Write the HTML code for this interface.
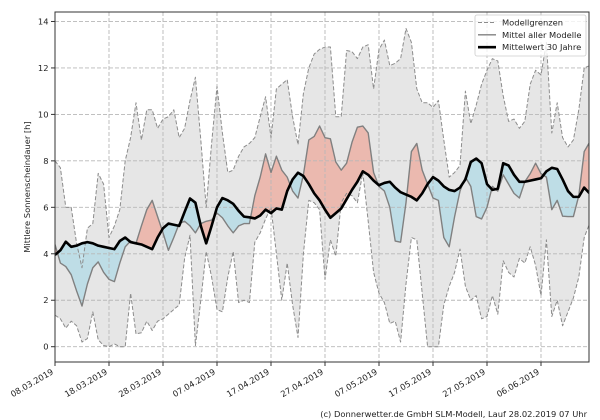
<!DOCTYPE html>
<html>
<head>
<meta charset="utf-8">
<style>
html,body{margin:0;padding:0;background:#fff;width:600px;height:420px;overflow:hidden;}
svg{display:block;}
text{fill:#222;}
</style>
</head>
<body>
<svg width="600" height="420" viewBox="0 0 600 420" xmlns="http://www.w3.org/2000/svg" font-family="'DejaVu Sans','Liberation Sans',sans-serif" font-size="8.33">
<defs>
  <clipPath id="plot"><rect x="55" y="12" width="534" height="350"/></clipPath>
  <clipPath id="aboveC">
    <polygon points="0,3.95 1,4.15 2,4.52 3,4.3 4,4.35 5,4.45 6,4.5 7,4.45 8,4.35 9,4.3 10,4.25 11,4.2 12,4.55 13,4.7 14,4.5 15,4.45 16,4.4 17,4.3 18,4.2 19,4.7 20,5.1 21,5.3 22,5.25 23,5.2 24,5.8 25,6.38 26,6.2 27,5.2 28,4.45 29,5.2 30,6 31,6.4 32,6.3 33,6.15 34,5.85 35,5.6 36,5.57 37,5.52 38,5.65 39,5.9 40,5.75 41,5.95 42,5.9 43,6.7 44,7.2 45,7.49 46,7.35 47,7 48,6.6 49,6.3 50,5.9 51,5.55 52,5.75 53,5.95 54,6.35 55,6.75 56,7.1 57,7.55 58,7.4 59,7.15 60,6.95 61,7.05 62,7.1 63,6.85 64,6.65 65,6.55 66,6.45 67,6.3 68,6.6 69,7 70,7.3 71,7.15 72,6.9 73,6.75 74,6.7 75,6.85 76,7.2 77,7.95 78,8.1 79,7.9 80,7 81,6.75 82,6.8 83,7.9 84,7.8 85,7.4 86,7.1 87,7.1 88,7.15 89,7.2 90,7.25 91,7.55 92,7.7 93,7.65 94,7.2 95,6.7 96,6.45 97,6.45 98,6.85 99,6.6 99,14.5 0,14.5"/>
  </clipPath>
  <clipPath id="aboveM">
    <polygon points="0,4.4 1,3.6 2,3.45 3,3.1 4,2.4 5,1.75 6,2.7 7,3.4 8,3.65 9,3.2 10,2.9 11,2.8 12,3.6 13,4.3 14,4.55 15,4.45 16,5.2 17,5.9 18,6.3 19,5.6 20,4.9 21,4.15 22,4.7 23,5.3 24,5.4 25,5.2 26,4.9 27,5.3 28,5.4 29,5.45 30,5.75 31,5.55 32,5.2 33,4.9 34,5.2 35,5.3 36,5.3 37,6.5 38,7.3 39,8.3 40,7.5 41,8.2 42,7.6 43,7.3 44,6.7 45,6.4 46,7.4 47,8.9 48,9.05 49,9.5 50,9 51,8.95 52,7.95 53,7.6 54,7.9 55,8.8 56,9.45 57,9.5 58,9.2 59,7.5 60,6.9 61,6.7 62,6 63,4.55 64,4.5 65,6.2 66,8.4 67,8.75 68,7.6 69,7 70,6.4 71,6.3 72,4.7 73,4.3 74,5.6 75,6.7 76,7.3 77,6.9 78,5.6 79,5.5 80,6 81,6.9 82,6.7 83,7.4 84,7 85,6.6 86,6.4 87,7.1 88,7.45 89,7.9 90,7.45 91,7.3 92,5.9 93,6.3 94,5.62 95,5.6 96,5.6 97,6.5 98,8.4 99,8.8 99,14.5 0,14.5"/>
  </clipPath>
</defs>

<g clip-path="url(#plot)">
  <g transform="translate(55,346.7) scale(5.4,-23.23)">
    <polygon fill="#e6e6e6" stroke="none" points="0,8 1,7.7 2,6 3,6 4,4.45 5,3.4 6,5.1 7,5.3 8,7.46 9,7 10,4.7 11,5.2 12,5.9 13,8 14,9 15,10.5 16,8.9 17,10.2 18,10.2 19,9.4 20,9.8 21,9.9 22,10.2 23,9 24,9.4 25,10.6 26,11.6 27,8.9 28,6 29,8.75 30,11.2 31,9.2 32,7.5 33,7.6 34,8.2 35,8.6 36,8.75 37,9 38,9.9 39,10.76 40,9 41,11.1 42,11.3 43,11.5 44,9.9 45,8.7 46,10.9 47,12 48,12.6 49,12.8 50,12.9 51,12.9 52,9.9 53,9.9 54,12.75 55,12.7 56,12.4 57,12.9 58,13 59,11.1 60,12.8 61,13.2 62,12.1 63,12.2 64,12.4 65,13.7 66,13.1 67,11.1 68,10.5 69,10.5 70,10.3 71,10.6 72,8.9 73,7.3 74,7.5 75,7.8 76,11 77,9.6 78,10.4 79,11.3 80,11.9 81,12.4 82,12.3 83,10.8 84,9.7 85,9.8 86,9.4 87,9.7 88,11.3 89,11.9 90,11.7 91,13.1 92,9.2 93,10.5 94,9 95,8.6 96,8.9 97,10.2 98,12 99,12.1 99,5.3 98,4.7 97,3 96,2.1 95,1.5 94,0.9 93,2 92,1.3 91,4.6 90,2.2 89,3.5 88,4.3 87,3.6 86,3.8 85,3 84,3.2 83,3.7 82,1.4 81,2.2 80,1.3 79,1.2 78,2.2 77,2 76,2.6 75,4.2 74,3.2 73,2.6 72,1.8 71,0 70,0 69,0 68,2.3 67,4.6 66,4.7 65,2.7 64,0.2 63,1.1 62,1 61,1.9 60,2.3 59,3.2 58,5.4 57,7.5 56,6.2 55,6.5 54,6.6 53,6.2 52,3.9 51,4.6 50,2.9 49,5.9 48,6.2 47,6.3 46,4 45,0.4 44,1.8 43,3.6 42,2 41,4 40,6 39,5.5 38,4.9 37,4.5 36,1.9 35,2 34,1.9 33,4.1 32,3 31,1.5 30,1.6 29,3 28,4.1 27,2 26,0.05 25,4.8 24,3.8 23,1.8 22,1.6 21,1.4 20,1.2 19,1.1 18,0.7 17,1.1 16,0.6 15,0.55 14,2.3 13,0 12,0 11,0.12 10,0 9,0.05 8,0.3 7,1.5 6,0.35 5,0.2 4,0.9 3,1.1 2,0.8 1,1.2 0,1.36"/>
    <polygon clip-path="url(#aboveC)" fill="rgba(240,140,120,0.5)" stroke="none" points="0,4.4 1,3.6 2,3.45 3,3.1 4,2.4 5,1.75 6,2.7 7,3.4 8,3.65 9,3.2 10,2.9 11,2.8 12,3.6 13,4.3 14,4.55 15,4.45 16,5.2 17,5.9 18,6.3 19,5.6 20,4.9 21,4.15 22,4.7 23,5.3 24,5.4 25,5.2 26,4.9 27,5.3 28,5.4 29,5.45 30,5.75 31,5.55 32,5.2 33,4.9 34,5.2 35,5.3 36,5.3 37,6.5 38,7.3 39,8.3 40,7.5 41,8.2 42,7.6 43,7.3 44,6.7 45,6.4 46,7.4 47,8.9 48,9.05 49,9.5 50,9 51,8.95 52,7.95 53,7.6 54,7.9 55,8.8 56,9.45 57,9.5 58,9.2 59,7.5 60,6.9 61,6.7 62,6 63,4.55 64,4.5 65,6.2 66,8.4 67,8.75 68,7.6 69,7 70,6.4 71,6.3 72,4.7 73,4.3 74,5.6 75,6.7 76,7.3 77,6.9 78,5.6 79,5.5 80,6 81,6.9 82,6.7 83,7.4 84,7 85,6.6 86,6.4 87,7.1 88,7.45 89,7.9 90,7.45 91,7.3 92,5.9 93,6.3 94,5.62 95,5.6 96,5.6 97,6.5 98,8.4 99,8.8 99,-0.7 0,-0.7"/>
    <polygon clip-path="url(#aboveM)" fill="rgba(173,216,230,0.7)" stroke="none" points="0,3.95 1,4.15 2,4.52 3,4.3 4,4.35 5,4.45 6,4.5 7,4.45 8,4.35 9,4.3 10,4.25 11,4.2 12,4.55 13,4.7 14,4.5 15,4.45 16,4.4 17,4.3 18,4.2 19,4.7 20,5.1 21,5.3 22,5.25 23,5.2 24,5.8 25,6.38 26,6.2 27,5.2 28,4.45 29,5.2 30,6 31,6.4 32,6.3 33,6.15 34,5.85 35,5.6 36,5.57 37,5.52 38,5.65 39,5.9 40,5.75 41,5.95 42,5.9 43,6.7 44,7.2 45,7.49 46,7.35 47,7 48,6.6 49,6.3 50,5.9 51,5.55 52,5.75 53,5.95 54,6.35 55,6.75 56,7.1 57,7.55 58,7.4 59,7.15 60,6.95 61,7.05 62,7.1 63,6.85 64,6.65 65,6.55 66,6.45 67,6.3 68,6.6 69,7 70,7.3 71,7.15 72,6.9 73,6.75 74,6.7 75,6.85 76,7.2 77,7.95 78,8.1 79,7.9 80,7 81,6.75 82,6.8 83,7.9 84,7.8 85,7.4 86,7.1 87,7.1 88,7.15 89,7.2 90,7.25 91,7.55 92,7.7 93,7.65 94,7.2 95,6.7 96,6.45 97,6.45 98,6.85 99,6.6 99,-0.7 0,-0.7"/>
  </g>

  <g stroke="#b8b8b8" stroke-width="0.9" stroke-dasharray="4 2" fill="none">
    <line x1="55" y1="346.7" x2="589" y2="346.7"/>
    <line x1="55" y1="300.24" x2="589" y2="300.24"/>
    <line x1="55" y1="253.78" x2="589" y2="253.78"/>
    <line x1="55" y1="207.32" x2="589" y2="207.32"/>
    <line x1="55" y1="160.86" x2="589" y2="160.86"/>
    <line x1="55" y1="114.4" x2="589" y2="114.4"/>
    <line x1="55" y1="67.94" x2="589" y2="67.94"/>
    <line x1="55" y1="21.48" x2="589" y2="21.48"/>
    <line x1="109" y1="12" x2="109" y2="362"/>
    <line x1="163" y1="12" x2="163" y2="362"/>
    <line x1="217" y1="12" x2="217" y2="362"/>
    <line x1="271" y1="12" x2="271" y2="362"/>
    <line x1="325" y1="12" x2="325" y2="362"/>
    <line x1="379" y1="12" x2="379" y2="362"/>
    <line x1="433" y1="12" x2="433" y2="362"/>
    <line x1="487" y1="12" x2="487" y2="362"/>
    <line x1="541" y1="12" x2="541" y2="362"/>
  </g>

  <g transform="translate(55,346.7) scale(5.4,-23.23)" fill="none" stroke-linejoin="round">
    <polyline vector-effect="non-scaling-stroke" stroke="#8c8c8c" stroke-width="1" stroke-dasharray="4 2" points="0,8 1,7.7 2,6 3,6 4,4.45 5,3.4 6,5.1 7,5.3 8,7.46 9,7 10,4.7 11,5.2 12,5.9 13,8 14,9 15,10.5 16,8.9 17,10.2 18,10.2 19,9.4 20,9.8 21,9.9 22,10.2 23,9 24,9.4 25,10.6 26,11.6 27,8.9 28,6 29,8.75 30,11.2 31,9.2 32,7.5 33,7.6 34,8.2 35,8.6 36,8.75 37,9 38,9.9 39,10.76 40,9 41,11.1 42,11.3 43,11.5 44,9.9 45,8.7 46,10.9 47,12 48,12.6 49,12.8 50,12.9 51,12.9 52,9.9 53,9.9 54,12.75 55,12.7 56,12.4 57,12.9 58,13 59,11.1 60,12.8 61,13.2 62,12.1 63,12.2 64,12.4 65,13.7 66,13.1 67,11.1 68,10.5 69,10.5 70,10.3 71,10.6 72,8.9 73,7.3 74,7.5 75,7.8 76,11 77,9.6 78,10.4 79,11.3 80,11.9 81,12.4 82,12.3 83,10.8 84,9.7 85,9.8 86,9.4 87,9.7 88,11.3 89,11.9 90,11.7 91,13.1 92,9.2 93,10.5 94,9 95,8.6 96,8.9 97,10.2 98,12 99,12.1"/>
    <polyline vector-effect="non-scaling-stroke" stroke="#8c8c8c" stroke-width="1" stroke-dasharray="4 2" points="0,1.36 1,1.2 2,0.8 3,1.1 4,0.9 5,0.2 6,0.35 7,1.5 8,0.3 9,0.05 10,0 11,0.12 12,0 13,0 14,2.3 15,0.55 16,0.6 17,1.1 18,0.7 19,1.1 20,1.2 21,1.4 22,1.6 23,1.8 24,3.8 25,4.8 26,0.05 27,2 28,4.1 29,3 30,1.6 31,1.5 32,3 33,4.1 34,1.9 35,2 36,1.9 37,4.5 38,4.9 39,5.5 40,6 41,4 42,2 43,3.6 44,1.8 45,0.4 46,4 47,6.3 48,6.2 49,5.9 50,2.9 51,4.6 52,3.9 53,6.2 54,6.6 55,6.5 56,6.2 57,7.5 58,5.4 59,3.2 60,2.3 61,1.9 62,1 63,1.1 64,0.2 65,2.7 66,4.7 67,4.6 68,2.3 69,0 70,0 71,0 72,1.8 73,2.6 74,3.2 75,4.2 76,2.6 77,2 78,2.2 79,1.2 80,1.3 81,2.2 82,1.4 83,3.7 84,3.2 85,3 86,3.8 87,3.6 88,4.3 89,3.5 90,2.2 91,4.6 92,1.3 93,2 94,0.9 95,1.5 96,2.1 97,3 98,4.7 99,5.3"/>
    <polyline vector-effect="non-scaling-stroke" stroke="#808080" stroke-width="1.4" points="0,4.4 1,3.6 2,3.45 3,3.1 4,2.4 5,1.75 6,2.7 7,3.4 8,3.65 9,3.2 10,2.9 11,2.8 12,3.6 13,4.3 14,4.55 15,4.45 16,5.2 17,5.9 18,6.3 19,5.6 20,4.9 21,4.15 22,4.7 23,5.3 24,5.4 25,5.2 26,4.9 27,5.3 28,5.4 29,5.45 30,5.75 31,5.55 32,5.2 33,4.9 34,5.2 35,5.3 36,5.3 37,6.5 38,7.3 39,8.3 40,7.5 41,8.2 42,7.6 43,7.3 44,6.7 45,6.4 46,7.4 47,8.9 48,9.05 49,9.5 50,9 51,8.95 52,7.95 53,7.6 54,7.9 55,8.8 56,9.45 57,9.5 58,9.2 59,7.5 60,6.9 61,6.7 62,6 63,4.55 64,4.5 65,6.2 66,8.4 67,8.75 68,7.6 69,7 70,6.4 71,6.3 72,4.7 73,4.3 74,5.6 75,6.7 76,7.3 77,6.9 78,5.6 79,5.5 80,6 81,6.9 82,6.7 83,7.4 84,7 85,6.6 86,6.4 87,7.1 88,7.45 89,7.9 90,7.45 91,7.3 92,5.9 93,6.3 94,5.62 95,5.6 96,5.6 97,6.5 98,8.4 99,8.8"/>
    <polyline vector-effect="non-scaling-stroke" stroke="#000" stroke-width="2.6" points="0,3.95 1,4.15 2,4.52 3,4.3 4,4.35 5,4.45 6,4.5 7,4.45 8,4.35 9,4.3 10,4.25 11,4.2 12,4.55 13,4.7 14,4.5 15,4.45 16,4.4 17,4.3 18,4.2 19,4.7 20,5.1 21,5.3 22,5.25 23,5.2 24,5.8 25,6.38 26,6.2 27,5.2 28,4.45 29,5.2 30,6 31,6.4 32,6.3 33,6.15 34,5.85 35,5.6 36,5.57 37,5.52 38,5.65 39,5.9 40,5.75 41,5.95 42,5.9 43,6.7 44,7.2 45,7.49 46,7.35 47,7 48,6.6 49,6.3 50,5.9 51,5.55 52,5.75 53,5.95 54,6.35 55,6.75 56,7.1 57,7.55 58,7.4 59,7.15 60,6.95 61,7.05 62,7.1 63,6.85 64,6.65 65,6.55 66,6.45 67,6.3 68,6.6 69,7 70,7.3 71,7.15 72,6.9 73,6.75 74,6.7 75,6.85 76,7.2 77,7.95 78,8.1 79,7.9 80,7 81,6.75 82,6.8 83,7.9 84,7.8 85,7.4 86,7.1 87,7.1 88,7.15 89,7.2 90,7.25 91,7.55 92,7.7 93,7.65 94,7.2 95,6.7 96,6.45 97,6.45 98,6.85 99,6.6"/>
  </g>
</g>

<rect x="55" y="12" width="534" height="350" fill="none" stroke="#333" stroke-width="1"/>

<g stroke="#333" stroke-width="1">
  <line x1="51" y1="346.7" x2="55" y2="346.7"/>
  <line x1="51" y1="300.24" x2="55" y2="300.24"/>
  <line x1="51" y1="253.78" x2="55" y2="253.78"/>
  <line x1="51" y1="207.32" x2="55" y2="207.32"/>
  <line x1="51" y1="160.86" x2="55" y2="160.86"/>
  <line x1="51" y1="114.4" x2="55" y2="114.4"/>
  <line x1="51" y1="67.94" x2="55" y2="67.94"/>
  <line x1="51" y1="21.48" x2="55" y2="21.48"/>
  <line x1="55" y1="362" x2="55" y2="366"/>
  <line x1="109" y1="362" x2="109" y2="366"/>
  <line x1="163" y1="362" x2="163" y2="366"/>
  <line x1="217" y1="362" x2="217" y2="366"/>
  <line x1="271" y1="362" x2="271" y2="366"/>
  <line x1="325" y1="362" x2="325" y2="366"/>
  <line x1="379" y1="362" x2="379" y2="366"/>
  <line x1="433" y1="362" x2="433" y2="366"/>
  <line x1="487" y1="362" x2="487" y2="366"/>
  <line x1="541" y1="362" x2="541" y2="366"/>
</g>
<g text-anchor="end">
  <text x="48.5" y="349.7">0</text>
  <text x="48.5" y="303.2">2</text>
  <text x="48.5" y="256.8">4</text>
  <text x="48.5" y="210.3">6</text>
  <text x="48.5" y="163.9">8</text>
  <text x="48.5" y="117.4">10</text>
  <text x="48.5" y="70.9">12</text>
  <text x="48.5" y="24.5">14</text>
</g>
<text x="30" y="187" text-anchor="middle" transform="rotate(-90 30 187)">Mittlere Sonnenscheindauer [h]</text>

<g text-anchor="end">
  <text x="54" y="373.5" transform="rotate(-30 54 373.5)">08.03.2019</text>
  <text x="108" y="373.5" transform="rotate(-30 108 373.5)">18.03.2019</text>
  <text x="162" y="373.5" transform="rotate(-30 162 373.5)">28.03.2019</text>
  <text x="216" y="373.5" transform="rotate(-30 216 373.5)">07.04.2019</text>
  <text x="270" y="373.5" transform="rotate(-30 270 373.5)">17.04.2019</text>
  <text x="324" y="373.5" transform="rotate(-30 324 373.5)">27.04.2019</text>
  <text x="378" y="373.5" transform="rotate(-30 378 373.5)">07.05.2019</text>
  <text x="432" y="373.5" transform="rotate(-30 432 373.5)">17.05.2019</text>
  <text x="486" y="373.5" transform="rotate(-30 486 373.5)">27.05.2019</text>
  <text x="540" y="373.5" transform="rotate(-30 540 373.5)">06.06.2019</text>
</g>

<rect x="475" y="15" width="111" height="41" rx="2" ry="2" fill="rgba(255,255,255,0.8)" stroke="#cccccc" stroke-width="0.8"/>
<line x1="478" y1="22.5" x2="496" y2="22.5" stroke="#8c8c8c" stroke-width="1" stroke-dasharray="4 2"/>
<line x1="478" y1="34.8" x2="496" y2="34.8" stroke="#808080" stroke-width="1.4"/>
<line x1="478" y1="47.2" x2="496" y2="47.2" stroke="#000" stroke-width="2.6"/>
<text x="502" y="25.5">Modellgrenzen</text>
<text x="502" y="37.8">Mittel aller Modelle</text>
<text x="502" y="50.2">Mittelwert 30 Jahre</text>

<text x="587" y="417" text-anchor="end">(c) Donnerwetter.de GmbH SLM-Modell, Lauf 28.02.2019 07 Uhr</text>
</svg>
</body>
</html>
